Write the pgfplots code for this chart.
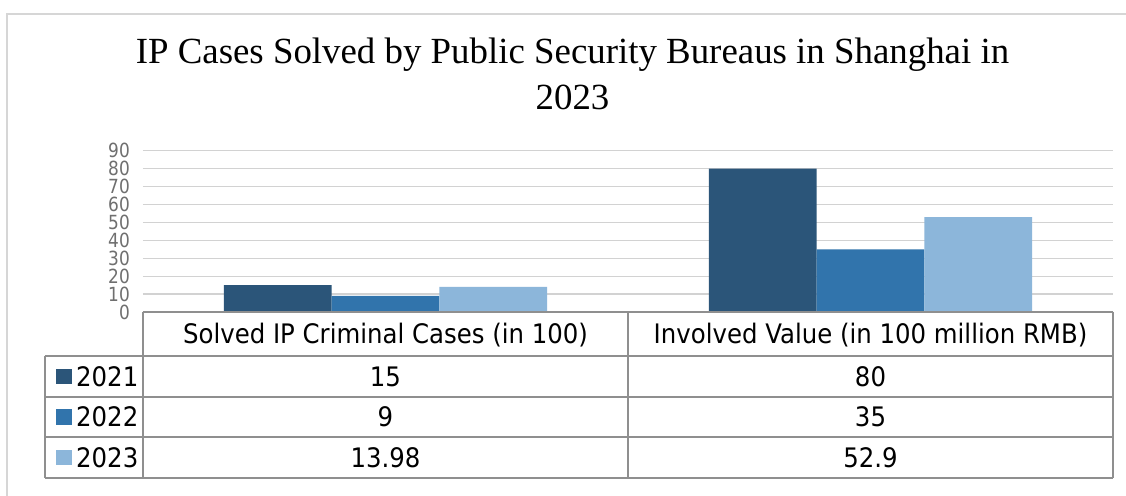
\documentclass[border=0pt]{standalone}
\usepackage{graphicx}
\usepackage{pgfplots}
\pgfplotsset{compat=1.18}
\usepackage{fontspec}
\setmainfont{DejaVu Sans}
\newfontfamily\titlefont{Liberation Serif}
\definecolor{cA}{HTML}{2B5579}
\definecolor{cB}{HTML}{3174AC}
\definecolor{cC}{HTML}{8CB6DA}
\definecolor{gridc}{HTML}{D2D2D2}
\definecolor{tablec}{HTML}{8F8F8F}
\definecolor{tickc}{HTML}{6F6F6F}
\definecolor{borderc}{HTML}{D6D6D6}
\newcommand{\tabfont}{\fontsize{24.5}{28}\selectfont}
\newcommand{\T}[1]{\scalebox{1}[1.1]{#1}}
\begin{document}
\begin{tikzpicture}[x=1bp,y=1bp]
\useasboundingbox (-143,-184) rectangle (983,312);
\fill[white] (-143,-184) rectangle (983,312);
\draw[line width=2bp, color=borderc] (-136,-190) -- (-136,298) -- (990,298);
\node[anchor=base, font=\titlefont\fontsize{37}{44}\selectfont] at (429.5,248) {IP Cases Solved by Public Security Bureaus in Shanghai in};
\node[anchor=base, font=\titlefont\fontsize{37}{44}\selectfont] at (429.5,202.5) {2023};
\begin{axis}[at={(0,0)}, anchor=south west, scale only axis,
  x=485bp, y=1.792bp, xmin=-0.5, xmax=1.5, ymin=0, ymax=90,
  axis line style={draw=none},
  ytick={0,10,...,90}, xtick=\empty,
  ymajorgrids, grid style={line width=1.3bp, color=gridc},
  major tick length=0pt,
  yticklabel={\scalebox{1}[1.15]{\pgfmathprintnumber{\tick}}},
  yticklabel style={font=\fontsize{17}{18}\selectfont, color=tickc, anchor=east, inner sep=0pt, xshift=-13bp},
  /pgf/number format/assume math mode=true,
  clip=false]
\addplot[ybar, bar width=107.7bp, bar shift=-107.7bp, fill=cA, draw=none] coordinates {(0,15) (1,80)};
\addplot[ybar, bar width=107.7bp, bar shift=0bp, fill=cB, draw=none] coordinates {(0,9) (1,35)};
\addplot[ybar, bar width=107.7bp, bar shift=107.7bp, fill=cC, draw=none] coordinates {(0,13.98) (1,52.9)};
\end{axis}
\begin{scope}[color=tablec, line width=1.8bp]
\draw (0,0) -- (970,0);
\draw (0,0) -- (0,-166);
\draw (485,0) -- (485,-166);
\draw (970,0) -- (970,-166);
\draw (-98,-44) -- (970,-44);
\draw (-98,-85) -- (970,-85);
\draw (-98,-125) -- (970,-125);
\draw (-98,-166) -- (970,-166);
\draw (-98,-44) -- (-98,-166);
\end{scope}
\begin{scope}[every node/.style={font=\tabfont, text=black, inner sep=0pt, anchor=base}]
\node at (242.5,-31.8) {\T{Solved IP Criminal Cases (in 100)}};
\node at (727.5,-31.8) {\T{Involved Value (in 100 million RMB)}};
\node at (242.5,-74.3) {\T{15}};
\node at (727.5,-74.3) {\T{80}};
\node at (242.5,-114.8) {\T{9}};
\node at (727.5,-114.8) {\T{35}};
\node at (242.5,-155.3) {\T{13.98}};
\node at (727.5,-155.3) {\T{52.9}};
\node[anchor=base west] at (-87,-74.3) {\raisebox{2.2bp}{\textcolor{cA}{\rule{15.5bp}{15.5bp}}}\hspace{4.5bp}\T{2021}};
\node[anchor=base west] at (-87,-114.8) {\raisebox{2.2bp}{\textcolor{cB}{\rule{15.5bp}{15.5bp}}}\hspace{4.5bp}\T{2022}};
\node[anchor=base west] at (-87,-155.3) {\raisebox{2.2bp}{\textcolor{cC}{\rule{15.5bp}{15.5bp}}}\hspace{4.5bp}\T{2023}};
\end{scope}
\end{tikzpicture}
\end{document}
